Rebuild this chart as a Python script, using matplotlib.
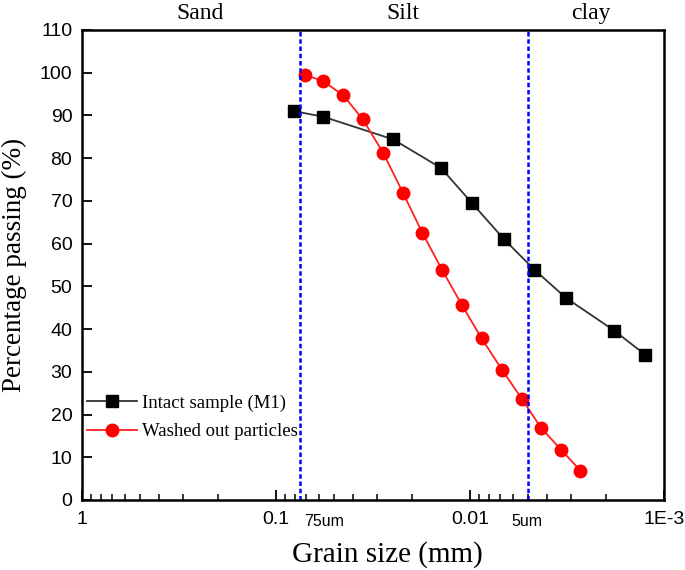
import numpy as np
import matplotlib
matplotlib.use("Agg")
import matplotlib.pyplot as plt
from matplotlib.ticker import LogLocator, NullFormatter
import matplotlib.transforms as mtransforms

# grain size (mm) and percentage passing
intact_d = [0.0808, 0.0570, 0.0249, 0.0141, 0.00973, 0.0067, 0.00466, 0.0032, 0.00180, 0.00125]
intact_p = [91.0, 89.7, 84.4, 77.7, 69.4, 61.1, 53.9, 47.3, 39.6, 34.0]

washed_d = [0.0706, 0.0570, 0.0450, 0.0357, 0.0280, 0.0221, 0.0176, 0.0139,
            0.0110, 0.00871, 0.00682, 0.00541, 0.00429, 0.00338, 0.00270]
washed_p = [99.5, 98.0, 94.7, 89.1, 81.2, 71.8, 62.5, 53.8,
            45.6, 37.8, 30.4, 23.7, 16.8, 11.7, 6.9]

limits = [0.075, 0.005]          # sand/silt and silt/clay boundaries
limit_labels = ["75um", "5um"]
limit_label_x = [0.0566, 0.0051]

zones = ["Sand", "Silt", "clay"]
zone_x = [0.2466, 0.0221, 0.00238]

xticks = [1, 0.1, 0.01, 0.001]
xticklabels = ["1", "0.1", "0.01", "1E-3"]

serif = ["Liberation Serif", "DejaVu Serif"]
sans = ["Liberation Sans", "DejaVu Sans"]

fig = plt.figure(figsize=(6.85, 5.70), dpi=100)
ax = fig.add_axes([82/685, 70/570, 582/685, 470/570])

ax.plot(intact_d, intact_p, color="#333333", lw=1.3, marker="s", ms=8.5,
        mfc="black", mec="black", label="Intact sample (M1)")
ax.plot(washed_d, washed_p, color="#ff2020", lw=1.3, marker="o", ms=9,
        mfc="#ff0000", mec="#ff0000", label="Washed out particles")

for v in limits:
    ax.axvline(v, color="#0000ff", lw=1.8, linestyle=(0, (1.8, 1.1)))

ax.set_xscale("log")
ax.set_xlim(1, 0.001)
ax.set_ylim(0, 110)
ax.set_xticks(xticks)
ax.set_xticklabels(xticklabels)
ax.xaxis.set_minor_locator(LogLocator(base=10, subs=np.arange(2, 10)))
ax.xaxis.set_minor_formatter(NullFormatter())
ax.set_yticks(np.arange(0, 111, 10))

ax.tick_params(axis="both", which="major", direction="in", length=7, width=1.3,
               labelsize=14)
ax.tick_params(axis="both", which="minor", direction="in", length=4, width=1.1)
ax.tick_params(axis="x", which="major", pad=8)
ax.tick_params(axis="y", which="major", pad=7)
for lab in ax.get_xticklabels() + ax.get_yticklabels():
    lab.set_family(sans)
for sp in ax.spines.values():
    sp.set_linewidth(1.8)

trans = mtransforms.blended_transform_factory(ax.transData, ax.transAxes)
for xv, t in zip(limit_label_x, limit_labels):
    ax.text(xv, -0.045, t, transform=trans, ha="center", va="center",
            fontsize=11.5, family=sans)
for xv, t in zip(zone_x, zones):
    ax.text(xv, 1.0235, t, transform=trans, ha="center", va="baseline",
            fontsize=17, family=serif)

ax.set_xlabel("Grain size (mm)", fontsize=21, family=serif)
ax.set_ylabel("Percentage passing (%)", fontsize=19.5, family=serif)
ax.xaxis.set_label_coords(0.524, -0.087)
ax.yaxis.set_label_coords(-0.0945, 0.5)

ax.legend(loc="center left", bbox_to_anchor=(0.0086, 0.176), frameon=False,
          borderpad=0, borderaxespad=0, handlelength=2.65, handletextpad=0.3,
          labelspacing=0.6, prop={"family": serif, "size": 13.5})

fig.savefig("out.png", dpi=100)
